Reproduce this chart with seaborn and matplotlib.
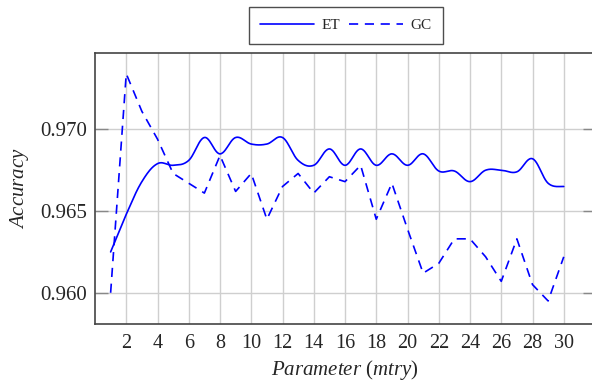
import numpy as np
import pandas as pd
import matplotlib
matplotlib.use("Agg")
import matplotlib.pyplot as plt
import seaborn as sns

# ---- data ----
mtry = list(range(1, 31))
et_acc = [0.9625, 0.9648, 0.9668, 0.9679, 0.9678, 0.9681, 0.9695, 0.9685, 0.9695, 0.9691,
          0.9691, 0.9695, 0.9681, 0.9678, 0.9688, 0.9678, 0.9688, 0.9678, 0.9685, 0.9678,
          0.9685, 0.96745, 0.96745, 0.9668, 0.9675, 0.9675, 0.9674, 0.9682, 0.9667, 0.9665]
gc_acc = [0.9600, 0.9734, 0.9711, 0.9694, 0.9673, 0.9667, 0.9661, 0.9684, 0.9662, 0.9673,
          0.9645, 0.9665, 0.9673, 0.9661, 0.9671, 0.9668, 0.9678, 0.9645, 0.9667, 0.9639,
          0.9612, 0.9618, 0.9633, 0.9633, 0.9622, 0.9607, 0.9633, 0.9605, 0.9595, 0.9622]
x_ticks = list(range(2, 31, 2))
y_ticks = [0.960, 0.965, 0.970]


def smooth_curve(xs, ys, k=0.18, n=24):
    """Bezier smoothing like pgfplots 'smooth' (curve passes through every point)."""
    p = np.column_stack([xs, ys]).astype(float)
    m = len(p)
    out = []
    for i in range(m - 1):
        p0 = p[i]
        p3 = p[i + 1]
        prev_ = p[i - 1] if i > 0 else p[i]
        nxt = p[i + 2] if i + 2 < m else p[i + 1]
        c1 = p0 + k * (p3 - prev_)
        c2 = p3 - k * (nxt - p0)
        t = np.linspace(0, 1, n, endpoint=(i == m - 2))[:, None]
        seg = ((1 - t) ** 3) * p0 + 3 * ((1 - t) ** 2) * t * c1 + 3 * (1 - t) * t ** 2 * c2 + t ** 3 * p3
        out.append(seg)
    out = np.vstack(out)
    return out[:, 0], out[:, 1]


sns.set_theme(style="whitegrid")
plt.rcParams["font.family"] = ["Liberation Serif", "DejaVu Serif"]
plt.rcParams["mathtext.fontset"] = "custom"
plt.rcParams["mathtext.rm"] = "Liberation Serif"
plt.rcParams["mathtext.it"] = "Liberation Serif:italic"

fig = plt.figure(figsize=(5.92, 3.84), dpi=100)
ax = fig.add_axes([95 / 592, 1 - 324 / 384, 500 / 592, 271 / 384])

sx, sy = smooth_curve(mtry, et_acc)
et_df = pd.DataFrame({"x": sx, "y": sy})
gc_df = pd.DataFrame({"x": mtry, "y": gc_acc})

sns.lineplot(data=et_df, x="x", y="y", ax=ax, color="#0000ff", lw=1.2,
             sort=False, estimator=None, label="ET")
sns.lineplot(data=gc_df, x="x", y="y", ax=ax, color="#0000ff", lw=1.2,
             sort=False, estimator=None, label="GC", linestyle=(0, (5.5, 4)))

ax.set_xlim(0, 32)
ax.set_ylim(0.95809, 0.97467)
ax.set_xticks(x_ticks)
ax.set_yticks(y_ticks)
ax.set_yticklabels([f"{v:.3f}" for v in y_ticks])
ax.set_xticklabels([str(v) for v in x_ticks])

ax.grid(True, color="#cfcfcf", lw=1.0)
for s in ax.spines.values():
    s.set_color("#444444")
    s.set_linewidth(1.2)
    s.set_visible(True)
ax.spines["right"].set_visible(False)

ax.tick_params(axis="y", direction="in", length=9, width=1.0, color="#888888",
               labelsize=15, pad=6, left=True, right=True)
ax.tick_params(axis="x", direction="in", length=0, labelsize=14.5, pad=7)

ax.set_xlabel(r"$Parameter\ (mtry)$", fontsize=15, labelpad=4)
ax.set_ylabel(r"$Accuracy$", fontsize=15, labelpad=6)

leg = ax.legend(loc="lower center", bbox_to_anchor=(0.502, 1.035), ncol=2,
                frameon=True, fancybox=False, fontsize=11, handlelength=3.5,
                handletextpad=0.5, columnspacing=0.6, borderpad=0.75,
                borderaxespad=0)
leg.get_frame().set_edgecolor("#222222")
leg.get_frame().set_linewidth(1.0)

fig.savefig("out.png", dpi=100)
